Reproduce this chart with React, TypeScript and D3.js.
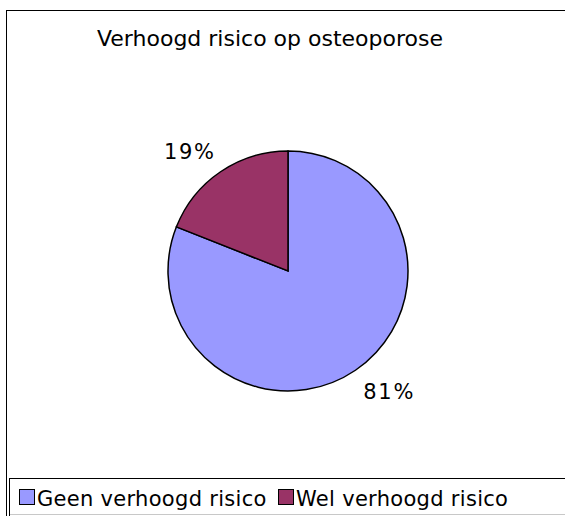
import { useEffect, useRef } from 'react';
import * as d3 from 'd3';

const title = 'Verhoogd risico op osteoporose';
const categories = ['Geen verhoogd risico', 'Wel verhoogd risico'];
const values = [81, 19];
const colors = ['#9999FF', '#993366'];

const App = () => {
  const svgRef = useRef<SVGSVGElement>(null);

  useEffect(() => {
    const svg = d3.select(svgRef.current);
    svg.selectAll('*').remove();

    const font = 'DejaVu Sans, Verdana, sans-serif';
    const cx = 288;
    const cy = 271;
    const radius = 120;

    // outer chart frame (runs past the right and bottom edge)
    svg.append('rect')
      .attr('x', 6.5).attr('y', 10.5)
      .attr('width', 600).attr('height', 560)
      .attr('fill', '#fff').attr('stroke', '#000').attr('stroke-width', 1);

    svg.append('text')
      .attr('x', 270).attr('y', 46)
      .attr('text-anchor', 'middle')
      .style('font-family', font).style('font-size', '22px')
      .attr('fill', '#000')
      .text(title);

    const pie = d3.pie<number>().sort(null).startAngle(0).endAngle(2 * Math.PI);
    const arcs = pie(values);
    const arc = d3.arc<d3.PieArcDatum<number>>().innerRadius(0).outerRadius(radius);
    // labels sit just outside the rim, anchored by their nearest corner
    const labelArc = d3.arc<d3.PieArcDatum<number>>().innerRadius(radius + 14).outerRadius(radius + 14);

    const g = svg.append('g').attr('transform', `translate(${cx},${cy})`);
    g.selectAll('path')
      .data(arcs)
      .enter().append('path')
      .attr('d', arc)
      .attr('fill', (d, i) => colors[i])
      .attr('stroke', '#000')
      .attr('stroke-width', 1.5);

    g.selectAll('.pct')
      .data(arcs)
      .enter().append('text')
      .attr('class', 'pct')
      .attr('x', d => labelArc.centroid(d)[0] + (labelArc.centroid(d)[0] < 0 ? 3 : 0))
      .attr('y', d => labelArc.centroid(d)[1])
      .attr('text-anchor', d => labelArc.centroid(d)[0] < 0 ? 'end' : 'start')
      .attr('dy', d => labelArc.centroid(d)[1] < 0 ? '-0.05em' : '0.82em')
      .style('font-family', font).style('font-size', '21px')
      .style('letter-spacing', '1.7px')
      .text(d => `${d.data}%`);

    // legend box (bottom edge falls off the picture)
    svg.append('rect')
      .attr('x', 9.5).attr('y', 478.5)
      .attr('width', 600).attr('height', 60)
      .attr('fill', '#fff').attr('stroke', '#000').attr('stroke-width', 1);
    svg.append('line')
      .attr('x1', 10).attr('x2', 565).attr('y1', 514.5).attr('y2', 514.5)
      .attr('stroke', '#c8c8c8');

    const legendX = [19, 278];
    const item = svg.selectAll('.legend')
      .data(categories)
      .enter().append('g')
      .attr('class', 'legend')
      .attr('transform', (d, i) => `translate(${legendX[i]},489)`);

    item.append('rect')
      .attr('x', 0.5).attr('y', 0.5)
      .attr('width', 15).attr('height', 15)
      .attr('fill', (d, i) => colors[i])
      .attr('stroke', '#000').attr('stroke-width', 1);

    item.append('text')
      .attr('x', 18).attr('y', 16.5)
      .style('font-family', font).style('font-size', '21px')
      .style('letter-spacing', '0.3px')
      .text(d => d);
  }, []);

  return (
    <svg ref={svgRef} width={565} height={516}
      style={{ position: 'absolute', left: 0, top: 0, background: '#fff' }} />
  );
};

export default App;
